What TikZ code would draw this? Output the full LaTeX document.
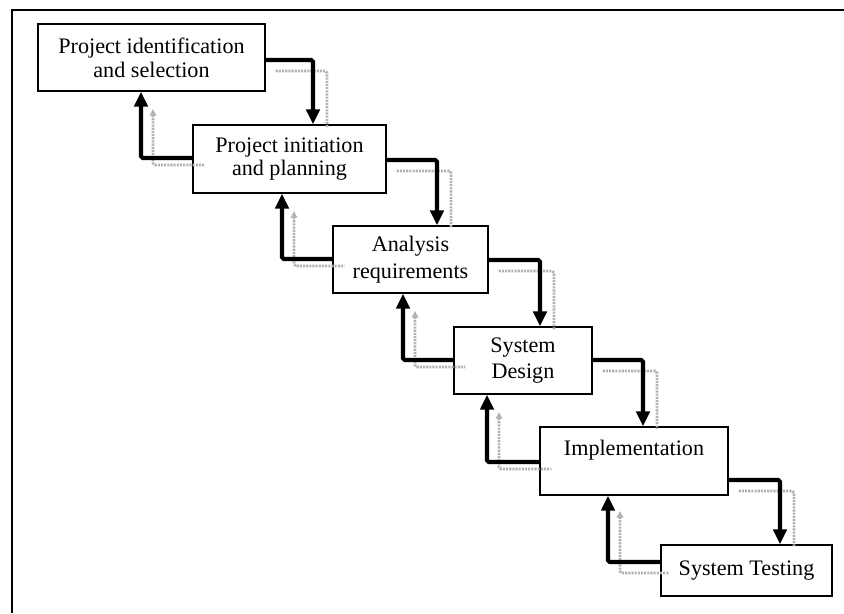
\documentclass[tikz,border=0pt]{standalone}
\usepackage{fontspec}
\setmainfont{Liberation Serif}
\usetikzlibrary{arrows.meta,calc}
\begin{document}
\begin{tikzpicture}[x=0.02cm,y=-0.02cm,
  box/.style={draw, line width=0.8pt, align=center, inner sep=0pt, fill=white,
    font=\fontsize{12.6}{13.5}\selectfont},
  fwd/.style={line width=2.3pt, rounded corners=1pt, -{Triangle[width=7.5pt,length=8.5pt]}},
  shad/.style={draw=black!30, line width=1.6pt, dash pattern=on 1.2pt off 0.6pt, rounded corners=1pt},
  shadtip/.style={shad, {Latex[length=4pt,width=4.5pt]}-},
]
\useasboundingbox (0,0) rectangle (844,613);
\draw[line width=0.8pt] (844,10) -- (12,10) -- (12,613);

\node[box, minimum width=4.54cm, minimum height=1.34cm] (b1) at (151.5,57.5) {Project identification\\and selection};
\node[box, minimum width=3.86cm, minimum height=1.36cm] (b2) at (289.5,159) {Project initiation\\and planning};
\node[box, minimum width=3.10cm, minimum height=1.34cm, font=\fontsize{12.6}{15}\selectfont] (b3) at (410.5,259.5) {Analysis\\requirements};
\node[box, minimum width=2.76cm, minimum height=1.34cm, font=\fontsize{12.6}{15}\selectfont] (b4) at (523,360.5) {System\\Design};
\node[box, minimum width=3.76cm, minimum height=1.36cm, font=\fontsize{12.6}{15}\selectfont] (b5) at (634,461) {Implementation\\~};
\node[box, minimum width=3.42cm, minimum height=1.02cm] (b6) at (746.5,570.5) {System Testing};

% gray shadow lines (forward)
\draw[shad] ($(b1.east)+(10,13.5)$) -| ($(b2.north)+(37.5,3)$);
\draw[shad] ($(b2.east)+(10,12)$) -| ($(b3.north)+(40.5,3)$);
\draw[shad] ($(b3.east)+(10,11.5)$) -| ($(b4.north)+(31,3)$);
\draw[shad] ($(b4.east)+(10,10.5)$) -| ($(b5.north)+(23,3)$);
\draw[shad] ($(b5.east)+(10,30)$) -| ($(b6.north)+(47.5,3)$);
% gray shadow lines (backward)
\draw[shadtip] ($(b1.south)+(1.5,17)$) |- ($(b2.west)+(12,6)$);
\draw[shadtip] ($(b2.south)+(4.5,17)$) |- ($(b3.west)+(12,6.5)$);
\draw[shadtip] ($(b3.south)+(4.5,17)$) |- ($(b4.west)+(12,6.5)$);
\draw[shadtip] ($(b4.south)+(-24,17)$) |- ($(b5.west)+(12,8)$);
\draw[shadtip] ($(b5.south)+(-14,15)$) |- ($(b6.west)+(9,2.5)$);

% forward arrows
\draw[fwd] ($(b1.east)+(0,2.5)$) -| ($(b2.north)+(23.5,0)$);
\draw[fwd] ($(b2.east)+(0,1)$) -| ($(b3.north)+(26.5,0)$);
\draw[fwd] ($(b3.east)+(0,0.5)$) -| ($(b4.north)+(17,0)$);
\draw[fwd] ($(b4.east)+(0,-0.5)$) -| ($(b5.north)+(9,0)$);
\draw[fwd] ($(b5.east)+(0,19)$) -| ($(b6.north)+(33.5,0)$);
% backward arrows
\draw[fwd] ($(b2.west)+(0,-1)$) -| ($(b1.south)+(-10.5,0)$);
\draw[fwd] ($(b3.west)+(0,-0.5)$) -| ($(b2.south)+(-7.5,0)$);
\draw[fwd] ($(b4.west)+(0,-0.5)$) -| ($(b3.south)+(-7.5,0)$);
\draw[fwd] ($(b5.west)+(0,1)$) -| ($(b4.south)+(-36,0)$);
\draw[fwd] ($(b6.west)+(0,-8.5)$) -| ($(b5.south)+(-26,0)$);
\end{tikzpicture}
\end{document}
